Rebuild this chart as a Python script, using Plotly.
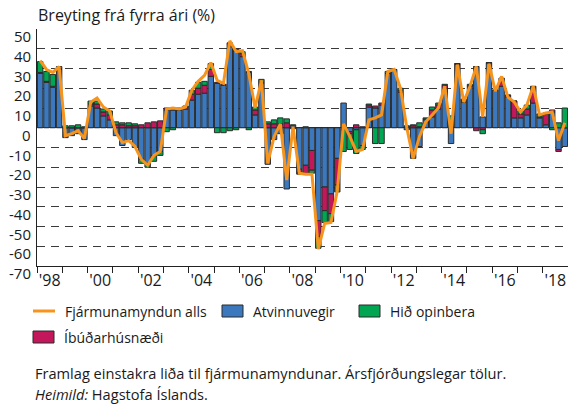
import plotly.graph_objects as go

# ---------------- data (quarterly, 1998Q1 - 2018Q4) ----------------
years = list(range(1998, 2019))
quarters = [f"{y}Q{q}" for y in years for q in range(1, 5)]

atvinnuvegir = [
    27.5, 23, 20.5, 29.5,
    -5, -4, -3, -6,
    11, 10, 6, 4,
    -4, -9, -6, -10,
    -16, -18, -14, -12,
    9, 9, 9, 9.5,
    14, 17, 17.5, 26,
    22.5, 21.5, 41, 39,
    36, 28, 6.5, 22.5,
    -18.5, -6, -3, -31,
    1, -21, -19, -11.5,
    -47, -30, -33.5, -15.5,
    12.5, -2, -1, -9,
    10.5, 10, 11.5, 27.5,
    29.5, 18, -1, -15.5,
    -9.5, 4, 5.5, 9.5,
    20, -8, 32, 13,
    21, 31, 5.5, 32.5,
    19, 21, 15.5, 5,
    5, 6.5, 12.5, 5,
    1.5, 8, -11, -9.5,
]
ibudarhusnaedi = [
    0.5, 0.5, 0.5, 0.5,
    0, 0, 0, 0,
    1, 2, 2, 2.5,
    1.5, 1.5, 1, 1,
    1.5, 2.5, 3, 3.5,
    1, 0.5, 0.5, 1,
    3, 3, 4, 3.5,
    0.5, 0.5, 2, 1,
    1.5, 0.5, 2.5, 0.5,
    2, 2, 2, 2.5,
    -0.5, -2, -4, -10,
    -8, -12, -10, -13.5,
    -1, -1, 1.5, 0.5,
    1, 1, 1, 0,
    0, 1, 0.5, 1,
    0.5, 0.5, 3.5, 2,
    1.5, 0.5, 0.5, 1,
    0.5, -1.5, -1, 0.5,
    0, 4, 1, 8.5,
    2, 3, 8, 0.5,
    5.5, 1, -1, 0,
]
hid_opinbera = [
    5.5, 5, 6, 1,
    1, 1, 1.5, 0.5,
    1.5, 1.5, 1.5, 2,
    1.5, 1, 1.5, 1,
    -2, -2, -3, -2,
    -2, -1, 0.5, 0.5,
    2, 3, 2, 3,
    -2.5, -2.5, -1.5, -1,
    1, -1, 1.5, 1.5,
    1, 2, 3, 2,
    0.5, -0.5, 0.5, -1.5,
    -6, -6, -4, -3.5,
    -11, -8, -12, -2,
    0.5, -8, -8, 1,
    0, 1, 0.5, 0.5,
    2, 0.5, 1.5, 1,
    0.5, 5.5, 0, 0.5,
    0.5, 0, -2, 0,
    0, 0, 0, 0,
    1.5, 2, 0.5, 1.5,
    0.5, -1, 2.5, 10,
]
fjarmunamyndun = [
    34, 29.5, 28, 31,
    -4, -3, -1.5, -5.5,
    13, 15, 10.5, 8.5,
    -2.5, -7.5, -6.5, -9.5,
    -16, -19, -14, -12,
    9.5, 10, 9.5, 10.5,
    19, 23.5, 26.5, 33,
    24, 22.5, 44, 38.5,
    39, 27.5, 10, 24,
    -18, -4.5, 2, -26.5,
    0.5, -23, -23.5, -23.5,
    -61.5, -48.5, -48, -32,
    2, -4.5, -12, -11,
    4, 5, 6.5, 28.5,
    29.5, 20, 0, -15.5,
    -4.5, 3, 6.5, 10,
    21, -3, 32, 13,
    21, 31, 5.5, 32.5,
    18.5, 26, 15.5, 13,
    8, 11.5, 21, 6.5,
    7.5, 8, -6.5, 2.5,
]

y_ticks = list(range(-70, 51, 10))
x_label_years = list(range(1998, 2019, 2))
x_tick_labels = ["'" + str(y)[2:] for y in x_label_years]

# ---------------- style ----------------
FONT = "Open Sans"
BLUE = "#3b78bd"
GREEN = "#00a651"
MAGENTA = "#c2185b"
ORANGE = "#f7941d"
EDGE = "#2b2b2b"
TXT = "#1a1a1a"

# quarter -> numeric position (middle of the quarter)
def qpos(label):
    y, q = label.split("Q")
    return int(y) + (int(q) - 0.5) / 4

xs = [qpos(q) for q in quarters]

fig = go.Figure()
bar_common = dict(x=xs, width=0.25 * 0.86, marker_line=dict(color=EDGE, width=1), showlegend=False)
fig.add_trace(go.Bar(y=atvinnuvegir, name="Atvinnuvegir", marker_color=BLUE, **bar_common))
fig.add_trace(go.Bar(y=ibudarhusnaedi, name="Íbúðarhúsnæði", marker_color=MAGENTA, **bar_common))
fig.add_trace(go.Bar(y=hid_opinbera, name="Hið opinbera", marker_color=GREEN, **bar_common))
fig.add_trace(go.Scatter(x=xs, y=fjarmunamyndun, mode="lines", name="Fjármunamyndun alls",
                         line=dict(color=ORANGE, width=3), showlegend=False))

L, T, B, R = 37, 29, 139, 0
W, H = 568, 405
PW, PH = W - L - R, H - T - B

def px_x(px):
    return (px - L) / PW

def px_y(py):
    return (T + PH - py) / PH

fig.update_layout(
    width=W, height=H,
    margin=dict(l=L, r=R, t=T, b=B, autoexpand=False),
    barmode="relative",
    plot_bgcolor="white", paper_bgcolor="white",
    font=dict(family=FONT, size=14, color=TXT),
    showlegend=False,
    xaxis=dict(
        range=[1998, 2019], automargin=False,
        tickmode="array", tickvals=[y + 0.5 for y in x_label_years], ticktext=x_tick_labels,
        ticks="", showgrid=False, zeroline=False,
        showline=True, linecolor="#222", linewidth=1,
        tickfont=dict(size=16),
        minor=dict(tickmode="array", tickvals=list(range(1998, 2020)), ticks="outside",
                   ticklen=6, tickcolor="#222", tickwidth=1, showgrid=False),
    ),
    yaxis=dict(
        range=[-70, 50], automargin=False,
        tickmode="array", tickvals=y_ticks, showticklabels=False,
        ticks="", showline=True, linecolor="#222", linewidth=1,
        showgrid=True, gridcolor="#3a3a3a", griddash="8px,6px", gridwidth=1,
        zeroline=True, zerolinecolor="#222", zerolinewidth=1,
    ),
)

annotations = []
shapes = []

# y tick labels: hang just below their grid lines, as in the original
for v in y_ticks:
    annotations.append(dict(text=str(v), xref="paper", yref="y", x=px_x(32), y=v,
                            xanchor="right", yanchor="middle", yshift=-7, showarrow=False,
                            font=dict(size=15), borderpad=0))

# title
annotations.append(dict(text="Breyting frá fyrra ári (%)", xref="paper", yref="paper",
                        x=px_x(36), y=px_y(15), xanchor="left", yanchor="middle",
                        showarrow=False, font=dict(size=16)))

# manual legend
def legend_box(x0, yc, color, label):
    shapes.append(dict(type="rect", xref="paper", yref="paper",
                       x0=px_x(x0), x1=px_x(x0 + 21), y0=px_y(yc + 6), y1=px_y(yc - 6),
                       fillcolor=color, line=dict(color=EDGE, width=1)))
    annotations.append(dict(text=label, xref="paper", yref="paper", x=px_x(x0 + 29), y=px_y(yc),
                            xanchor="left", yanchor="middle", showarrow=False, font=dict(size=14)))

shapes.append(dict(type="line", xref="paper", yref="paper", x0=px_x(33), x1=px_x(55),
                   y0=px_y(311), y1=px_y(311), line=dict(color=ORANGE, width=3)))
annotations.append(dict(text="Fjármunamyndun alls", xref="paper", yref="paper", x=px_x(63), y=px_y(311),
                        xanchor="left", yanchor="middle", showarrow=False, font=dict(size=14)))
legend_box(222, 311, BLUE, "Atvinnuvegir")
legend_box(359, 311, GREEN, "Hið opinbera")
legend_box(33, 337, MAGENTA, "Íbúðarhúsnæði")

# footer
annotations.append(dict(text="Framlag einstakra liða til fjármunamyndunar. Ársfjórðungslegar tölur.",
                        xref="paper", yref="paper", x=px_x(33), y=px_y(373), xanchor="left",
                        yanchor="middle", showarrow=False, font=dict(size=14.6)))
annotations.append(dict(text="<i>Heimild:</i> Hagstofa Íslands.",
                        xref="paper", yref="paper", x=px_x(33), y=px_y(394), xanchor="left",
                        yanchor="middle", showarrow=False, font=dict(size=14.6)))

fig.update_layout(annotations=annotations, shapes=shapes)
fig.write_html("out.html", config={"displayModeBar": False},
               post_script="document.body.style.margin='0px';")
